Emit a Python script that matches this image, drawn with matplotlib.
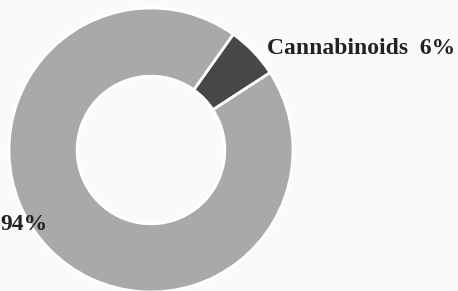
import matplotlib.pyplot as plt

# data
labels = ["Cannabinoids", "Other"]
shares = [6, 94]
colors = ["#474747", "#a9a9a9"]

# figure of 458x291 px, donut centre at (151,150) px, radius 142 px
W, H, R = 458, 291, 142.0
cx, cy = 151, 150

fig = plt.figure(figsize=(W / 100, H / 100), dpi=100)
fig.patch.set_facecolor("#fafafa")
ax = fig.add_axes([0, 0, 1, 1])

ax.pie(shares, colors=colors, startangle=33, counterclock=True,
       wedgeprops=dict(width=0.48, edgecolor="white", linewidth=2))

ax.set_xlim(-cx / R, (W - cx) / R)
ax.set_ylim(-(H - cy) / R, cy / R)
ax.set_aspect("equal")
ax.axis("off")

font = dict(family="Liberation Serif", fontweight="bold", color="#222222", va="center")
ax.text(0.82, 0.718, "{}  {}%".format(labels[0], shares[0]), fontsize=17, **font)
ax.text(-1.06, -0.528, "{}%".format(shares[1]), fontsize=17, **font)

plt.savefig("out.png", dpi=100, facecolor=fig.get_facecolor())
